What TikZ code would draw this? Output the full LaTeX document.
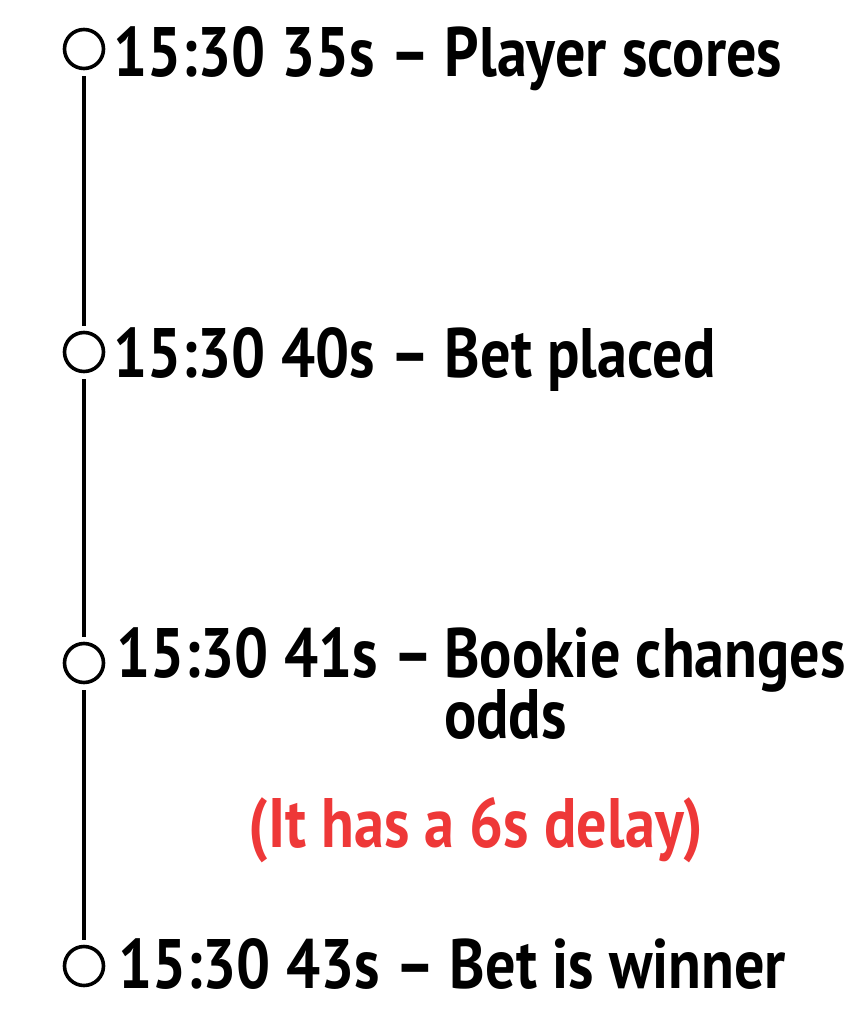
\documentclass[tikz,border=0pt]{standalone}
\usepackage{fontspec}
\setmainfont{PT Sans}[FakeStretch=0.86]
\usetikzlibrary{positioning}

\definecolor{delayred}{RGB}{238,56,56}

\tikzset{
  evdot/.style={draw, circle, line width=3.6pt, minimum size=39pt},
  evtext/.style={anchor=base west, font=\fontsize{70}{84}\selectfont\bfseries},
}

\begin{document}
\begin{tikzpicture}[x=1pt, y=-1pt, every node/.style={inner sep=0}]
  \useasboundingbox (0,0) rectangle (849,1024);

  % Timeline dots
  \foreach \y [count=\n] in {49,352,663,966} {
    \node[evdot] (dot\n) at (84,\y) {};
  }

  % Line between the dots
  \foreach \a/\b in {1/2,2/3,3/4} {
    \draw[line width=3.6pt, shorten <=6pt, shorten >=5pt] (dot\a.south) -- (dot\b.north);
  }

  % Event labels
  \node[evtext] (ev1) at (113,77) {15:30 35s -- Player scores};
  \node[evtext] (ev2) at (113,377) {15:30 40s -- Bet placed};
  \node[evtext] (ev3) at (116,677) {15:30 41s --};
  \node[evtext, right=11pt of ev3.base east, anchor=base west] (ev3b) {Bookie changes};
  \node[evtext] (ev3c) at ([yshift=-61pt]ev3b.base west) {odds};
  \node[evtext] (ev4) at (118,988) {15:30 43s -- Bet is winner};

  % Delay note
  \node[evtext, anchor=base, text=delayred] (delay) at (476,847) {(It has a 6s delay)};
\end{tikzpicture}
\end{document}
